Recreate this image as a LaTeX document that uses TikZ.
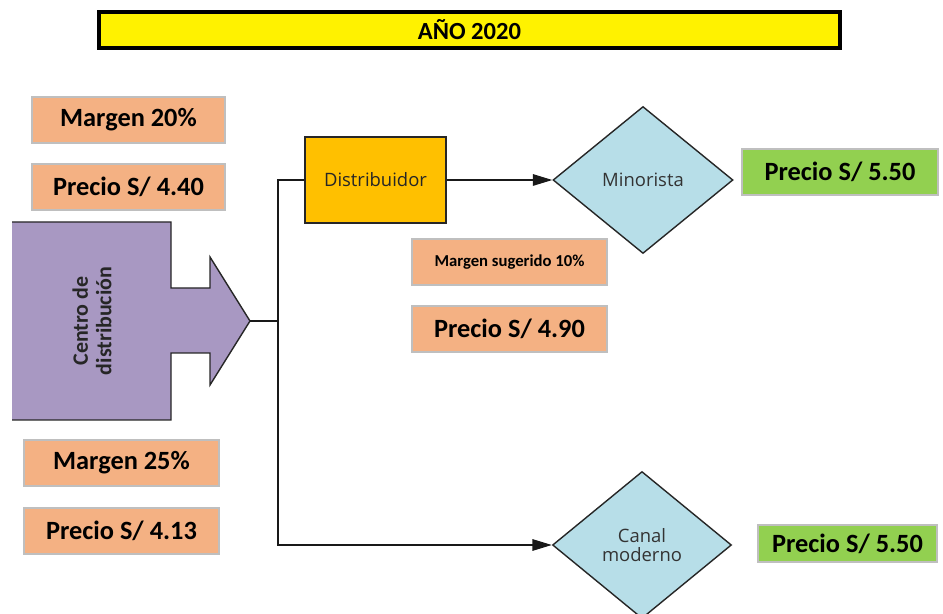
\documentclass[tikz,border=0pt]{standalone}
\usepackage{fontspec}
\setmainfont{Carlito}
\newfontfamily\chartfont{Open Sans}
\usepackage{tikz}
\usetikzlibrary{positioning,arrows.meta,shapes.geometric}
\definecolor{boxorange}{HTML}{F4B183}
\definecolor{boxgreen}{HTML}{92D050}
\definecolor{distorange}{HTML}{FFC000}
\definecolor{diamblue}{HTML}{B7DEE8}
\definecolor{cdpurple}{HTML}{A898C2}

\begin{document}
\begin{tikzpicture}[
  x=0.02cm, y=-0.02cm, >={Triangle[length=11pt,width=6.5pt]},
  title/.style={rectangle, draw=black, line width=2.2pt, fill=yellow, minimum width=14.82cm, minimum height=0.72cm, font=\bfseries\fontsize{14}{16}\selectfont},
  note/.style={rectangle, draw=black!25, line width=1pt, fill=boxorange, minimum width=3.86cm, minimum height=0.92cm, inner sep=1pt, font=\bfseries\fontsize{15}{17}\selectfont},
  price/.style={note, fill=boxgreen},
  proc/.style={rectangle, draw=black!85, line width=0.8pt, fill=distorange, minimum width=2.82cm, minimum height=1.72cm, font=\chartfont\fontsize{10.5}{12}\selectfont, text=black!85},
  dec/.style={diamond, draw=black!85, line width=0.8pt, fill=diamblue, minimum width=3.6cm, minimum height=2.94cm, inner sep=0pt, align=center, font=\chartfont\fontsize{10.5}{11}\selectfont, text=black!80},
  link/.style={draw=black!90, line width=0.8pt}
]
\useasboundingbox (0,0) rectangle (943,614);
\node[title] (anio) at (469.5,30) {AÑO 2020};
\node[note] (m20) at (128.5,120) {Margen 20\%};
\node[note, below=0.38cm of m20] (p440) {Precio S/ 4.40};
\node[note, minimum width=3.9cm] (m25) at (121.5,463) {Margen 25\%};
\node[note, minimum width=3.9cm, below=0.4cm of m25] (p413) {Precio S/ 4.13};

% centro de distribucion
\fill[cdpurple] (12,222) -- (171,222) -- (171,288) -- (210,288) -- (210,257) -- (250,321)
  -- (210,385) -- (210,353) -- (171,353) -- (171,420) -- (12,420) -- cycle;
\draw[black!85, line width=0.8pt] (12,222) -- (171,222) -- (171,288) -- (210,288) -- (210,257)
  -- (250,321) -- (210,385) -- (210,353) -- (171,353) -- (171,420) -- (12,420);
\coordinate (tip) at (250,321);
\node[rotate=90, align=center, font=\bfseries\fontsize{12.5}{13.5}\selectfont, text=black!85] (cd) at (92,321) {Centro de\\distribución};
\coordinate (j) at (278,321);

\node[proc] (dist) at (375.5,180) {Distribuidor};
\node[dec] (mino) at (643,180) {Minorista};
\node[dec, minimum width=3.58cm] (canal) at (642,545) {Canal\\moderno};
\node[price, minimum width=3.92cm] (g1) at (840,172) {Precio S/ 5.50};
\node[price, minimum width=3.58cm, minimum height=0.74cm] (g2) at (847.5,543.5) {Precio S/ 5.50};
\node[note, minimum width=3.9cm, font=\bfseries\fontsize{9.5}{11}\selectfont] (msug) at (509.5,262) {Margen sugerido 10\%};
\node[note, minimum width=3.9cm, below=0.38cm of msug] (p490) {Precio S/ 4.90};

\draw[link] (tip) -- (j);
\draw[link] (j) |- (dist.west);
\draw[link, ->] (j) |- (canal.west);
\draw[link, ->] (dist) -- (mino);
\end{tikzpicture}
\end{document}
